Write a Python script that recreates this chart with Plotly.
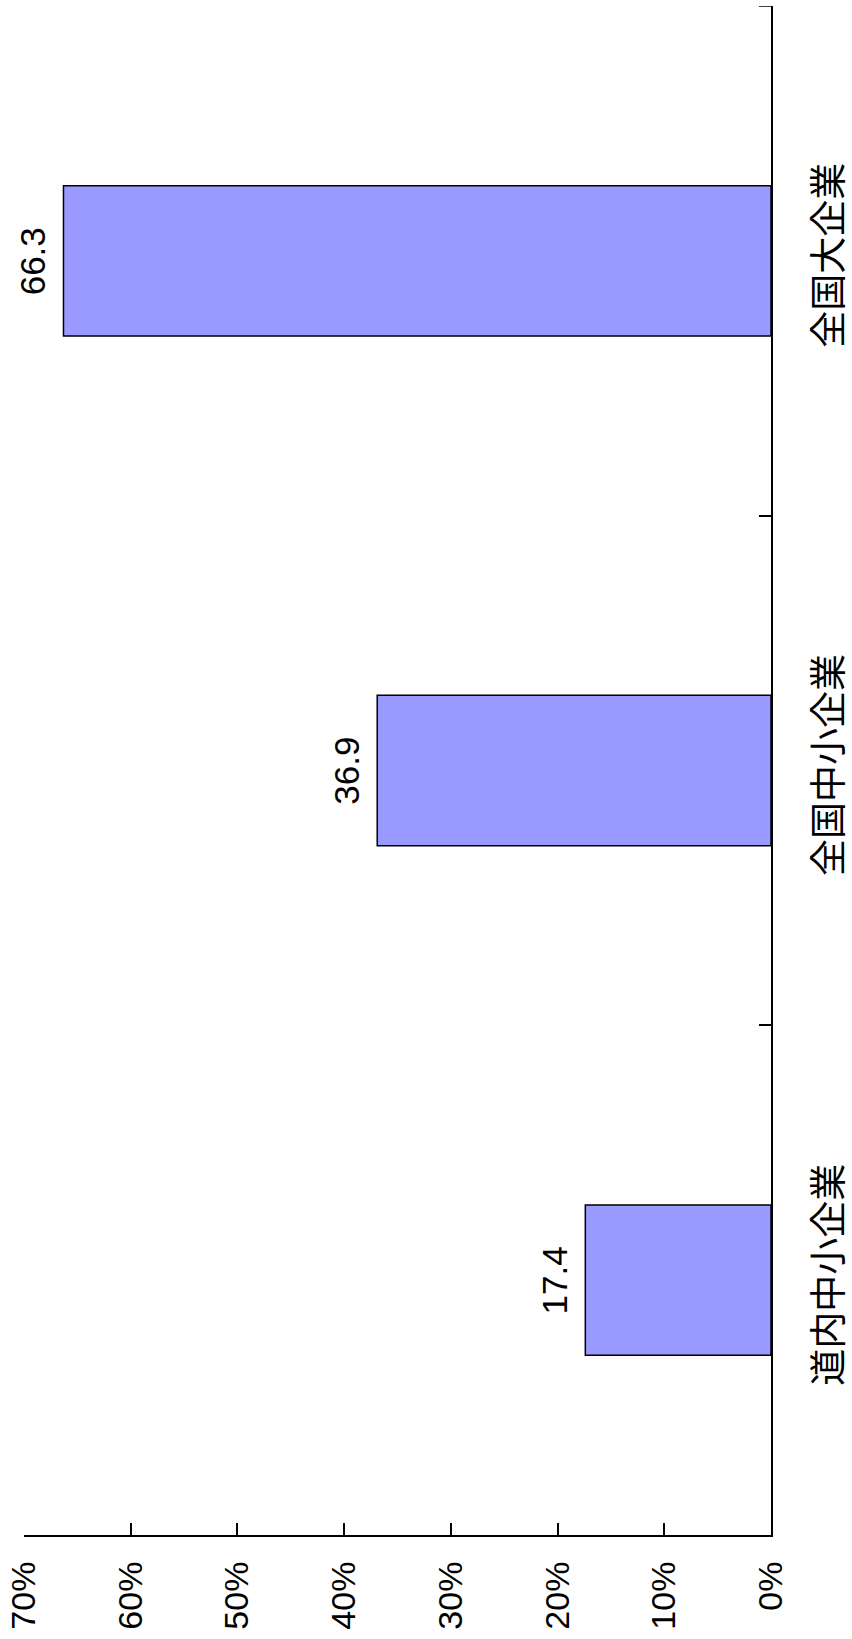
import plotly.graph_objects as go

# Share of companies (%) by group
categories = ["道内中小企業", "全国中小企業", "全国大企業"]
values = [17.4, 36.9, 66.3]
tick_vals = [0, 10, 20, 30, 40, 50, 60, 70]
tick_text = ["0%", "10%", "20%", "30%", "40%", "50%", "60%", "70%"]

NUM_FONT = "Liberation Sans, Arial, sans-serif"
CJK_FONT = "Noto Sans CJK JP, sans-serif"

fig = go.Figure()
fig.add_trace(go.Bar(
    x=values,
    y=categories,
    orientation="h",
    width=0.295,
    marker=dict(color="#9999FF", line=dict(color="black", width=1.5)),
    showlegend=False,
))

# value labels beside the end of each bar
for cat, val in zip(categories, values):
    fig.add_annotation(
        x=val, y=cat, xref="x", yref="y",
        text=f"{val:.1f}", showarrow=False,
        textangle=-90, xanchor="center", yanchor="middle",
        xshift=-31,
        font=dict(family=NUM_FONT, size=35, color="black"),
    )

# closing tick at the upper end of the category axis
fig.add_shape(
    type="line", xref="x", yref="y",
    xsizemode="pixel", xanchor=0, x0=-12, x1=0,
    y0=len(categories) - 0.5, y1=len(categories) - 0.5,
    line=dict(color="black", width=1.5),
)

fig.update_layout(
    width=852, height=1639,
    margin=dict(l=24, r=81, t=6, b=104),
    paper_bgcolor="white", plot_bgcolor="white",
    bargap=0.7,
)

fig.update_xaxes(
    range=[70, 0],
    automargin=False,
    tickmode="array", tickvals=tick_vals, ticktext=tick_text,
    tickangle=-90,
    ticks="inside", ticklen=12, tickwidth=1.5, tickcolor="black",
    showline=True, linecolor="black", linewidth=2,
    showgrid=False, zeroline=False,
    ticklabelstandoff=11,
    tickfont=dict(family=NUM_FONT, size=34, color="black"),
)

fig.update_yaxes(
    type="category",
    categoryorder="array", categoryarray=categories,
    range=[-0.5, 2.5],
    automargin=False,
    side="right",
    tickson="boundaries",
    ticks="inside", ticklen=12, tickwidth=1.5, tickcolor="black",
    tickangle=-90,
    showline=True, linecolor="black", linewidth=2,
    showgrid=False, zeroline=False,
    ticklabelstandoff=25,
    tickfont=dict(family=CJK_FONT, size=37, color="black"),
)

fig.write_html("out.html")
